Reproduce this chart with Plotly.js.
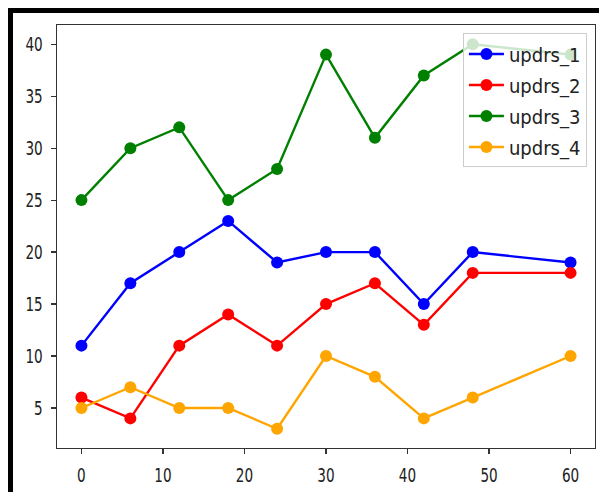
<!DOCTYPE html>
<html>
<head>
<meta charset="utf-8">
<script src="https://cdn.plot.ly/plotly-3.0.1.min.js"></script>
<style>
  html, body { margin: 0; padding: 0; background: #fff; }
  #wrap { position: relative; width: 599px; height: 492px; overflow: hidden; }
  #chart { position: absolute; left: 0; top: 0; width: 599px; height: 492px; }
  .bar { position: absolute; background: #000; }
</style>
</head>
<body>
<div id="wrap">
  <div id="chart"></div>
  <div class="bar" style="left:8px; top:8px; width:591px; height:5px;"></div>
  <div class="bar" style="left:8px; top:8px; width:5px; height:484px;"></div>
</div>
<script>
const months = [0, 6, 12, 18, 24, 30, 36, 42, 48, 60];
const updrs1 = [11, 17, 20, 23, 19, 20, 20, 15, 20, 19];
const updrs2 = [6, 4, 11, 14, 11, 15, 17, 13, 18, 18];
const updrs3 = [25, 30, 32, 25, 28, 39, 31, 37, 40, 39];
const updrs4 = [5, 7, 5, 5, 3, 10, 8, 4, 6, 10];
const seriesNames = ['updrs_1', 'updrs_2', 'updrs_3', 'updrs_4'];
const seriesColors = ['#0000ff', '#ff0000', '#008000', '#ffa500'];
const seriesValues = [updrs1, updrs2, updrs3, updrs4];
const xTicks = [0, 10, 20, 30, 40, 50, 60];
const yTicks = [5, 10, 15, 20, 25, 30, 35, 40];

const TICKFONT = '"DejaVu Sans", sans-serif';
const LEGFONT = '"DejaVu Sans Condensed", "DejaVu Sans", sans-serif';

const traces = seriesValues.map((vals, i) => ({
  x: months,
  y: vals,
  name: seriesNames[i],
  legendgroup: 'g' + i,
  type: 'scatter',
  mode: 'lines+markers',
  line: { color: seriesColors[i], width: 2.4 },
  marker: { color: seriesColors[i], size: 12 }
}));

const layout = {
  width: 599,
  height: 492,
  margin: { l: 57, r: 4, t: 25, b: 44 },
  paper_bgcolor: '#fff',
  plot_bgcolor: '#fff',
  font: { family: TICKFONT, size: 20, color: '#222' },
  showlegend: true,
  legend: {
    x: 0.985, y: 0.98, xanchor: 'right', yanchor: 'top',
    bgcolor: 'rgba(255,255,255,0.8)',
    bordercolor: '#cccccc', borderwidth: 1,
    font: { family: LEGFONT, size: 20, color: '#222' },
    itemwidth: 35,
    tracegroupgap: 2
  },
  xaxis: {
    range: [-3, 63],
    tickvals: xTicks,
    ticktext: xTicks.map(String),
    ticks: 'outside', ticklen: 5, tickwidth: 1.2, tickcolor: '#333',
    ticklabelstandoff: 4,
    tickfont: { family: TICKFONT, size: 20, color: '#222' },
    showgrid: false, zeroline: false,
    showline: true, mirror: true, linecolor: '#333', linewidth: 1.3
  },
  yaxis: {
    range: [1.15, 41.85],
    tickvals: yTicks,
    ticktext: yTicks.map(String),
    ticks: 'outside', ticklen: 5, tickwidth: 1.2, tickcolor: '#333',
    ticklabelstandoff: 4,
    tickfont: { family: TICKFONT, size: 20, color: '#222' },
    showgrid: false, zeroline: false,
    showline: true, mirror: true, linecolor: '#333', linewidth: 1.3
  }
};

Plotly.newPlot('chart', traces, layout, { displayModeBar: false, staticPlot: true }).then(gd => {
  // the reference's tick labels are horizontally compressed; squeeze glyphs to match
  gd.querySelectorAll('.xtick text, .ytick text').forEach(t => {
    const w = t.getComputedTextLength();
    t.setAttribute('textLength', (w * 0.68).toFixed(2));
    t.setAttribute('lengthAdjust', 'spacingAndGlyphs');
  });
});
</script>
</body>
</html>
